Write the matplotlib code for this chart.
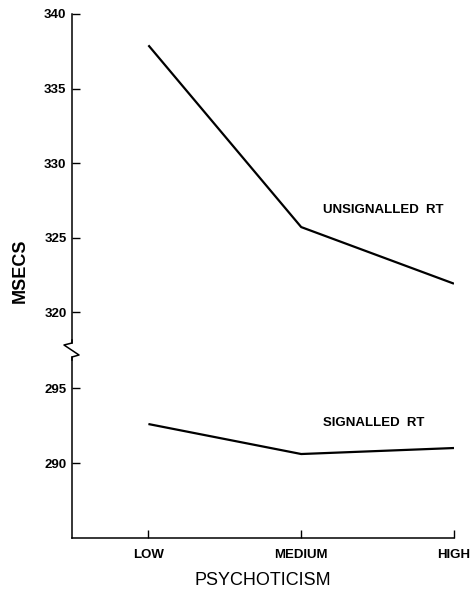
import matplotlib.pyplot as plt
from matplotlib.lines import Line2D

plt.rcParams['font.family'] = ['Liberation Sans', 'DejaVu Sans']

levels = ["LOW", "MEDIUM", "HIGH"]
unsignalled_rt = [337.9, 325.7, 321.9]
signalled_rt = [292.6, 290.6, 291.0]
upper_ticks = [320, 325, 330, 335, 340]
lower_ticks = [290, 295]

W, H = 474, 591
fig = plt.figure(figsize=(W / 100, H / 100), dpi=100)

def px_box(x0, y0, x1, y1):
    # pixel box (top-left origin) -> figure fraction rect
    return [x0 / W, 1 - y1 / H, (x1 - x0) / W, (y1 - y0) / H]

ax_top = fig.add_axes(px_box(72, 14, 454, 343))
ax_bot = fig.add_axes(px_box(72, 357, 454, 538))

xs = range(len(levels))
lw = 1.6
ax_top.plot(xs, unsignalled_rt, color="black", lw=lw, solid_capstyle="butt")
ax_bot.plot(xs, signalled_rt, color="black", lw=lw, solid_capstyle="butt")

ax_top.set_ylim(317.92, 340)
ax_bot.set_ylim(285.0, 297.07)
for ax in (ax_top, ax_bot):
    ax.set_xlim(-0.5, 2)
    for s in ("top", "right"):
        ax.spines[s].set_visible(False)
    ax.spines["left"].set_linewidth(1.1)
    ax.tick_params(axis="y", direction="in", length=6, width=1, pad=4,
                   labelsize=9.5)

ax_top.spines["bottom"].set_visible(False)
ax_top.set_xticks([])
ax_top.set_yticks(upper_ticks)
ax_top.set_yticklabels([str(t) for t in upper_ticks], fontweight="bold")
ax_bot.set_yticks(lower_ticks)
ax_bot.set_yticklabels([str(t) for t in lower_ticks], fontweight="bold")

ax_bot.spines["bottom"].set_linewidth(1.1)
ax_bot.set_xticks(list(xs))
ax_bot.set_xticklabels(levels, fontweight="bold", fontsize=9.5)
ax_bot.tick_params(axis="x", direction="in", length=6, width=1, pad=8)
ax_bot.set_xlabel("PSYCHOTICISM", fontsize=13, labelpad=8)

fig.text(20 / W, 1 - 271 / H, "MSECS", rotation=90, fontsize=13,
         fontweight="bold", ha="center", va="center")

ax_top.text(1.14, 326.85, "UNSIGNALLED  RT", fontsize=9.5, fontweight="bold",
            ha="left", va="center")
ax_bot.text(1.14, 292.67, "SIGNALLED  RT", fontsize=9.5, fontweight="bold",
            ha="left", va="center")

# axis break squiggle
bx = [72, 72, 64, 79, 72, 72]
by = [340, 343, 345, 355, 357, 360]
fig.add_artist(Line2D([x / W for x in bx], [1 - y / H for y in by],
                      transform=fig.transFigure, color="black", lw=1.1))

fig.savefig("out.png", dpi=100)
